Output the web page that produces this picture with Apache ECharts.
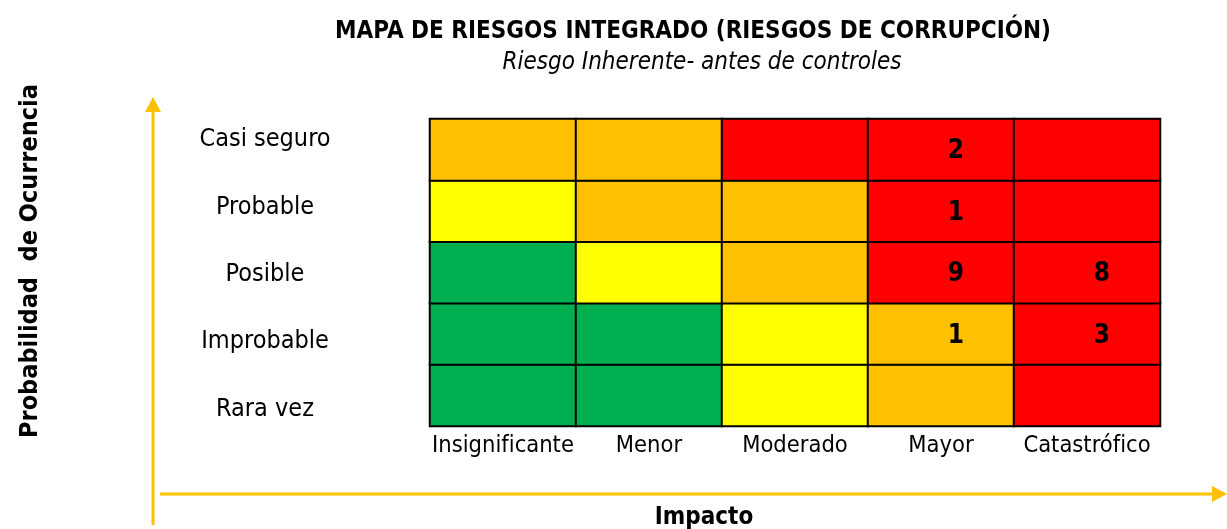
<!DOCTYPE html>
<html lang="es">
<head>
    <meta charset="UTF-8" />
    <title>Mapa de riesgos</title>
    <script src="https://cdn.jsdelivr.net/npm/echarts@6/dist/echarts.min.js"></script>
    <style>
        html, body { margin: 0; padding: 0; background: #fff; }
        #mapa { width: 1227px; height: 529px; }
    </style>
</head>
<body>
    <div id="mapa"></div>
<script type="text/javascript">
    // ejes
    var impactos = ['Insignificante', 'Menor', 'Moderado', 'Mayor', 'Catastrófico'];
    var probabilidades = ['Rara vez', 'Improbable', 'Posible', 'Probable', 'Casi seguro'];

    // nivel de riesgo por fila (de Rara vez a Casi seguro), columnas = impactos
    // B = bajo (verde), M = moderado (amarillo), A = alto (naranja), E = extremo (rojo)
    var nivelRaraVez    = ['B', 'B', 'M', 'A', 'E'];
    var nivelImprobable = ['B', 'B', 'M', 'A', 'E'];
    var nivelPosible    = ['B', 'M', 'A', 'E', 'E'];
    var nivelProbable   = ['M', 'A', 'A', 'E', 'E'];
    var nivelCasiSeguro = ['A', 'A', 'E', 'E', 'E'];

    // cantidad de riesgos en cada celda (0 = vacio)
    var riesgosRaraVez    = [0, 0, 0, 0, 0];
    var riesgosImprobable = [0, 0, 0, 1, 3];
    var riesgosPosible    = [0, 0, 0, 9, 8];
    var riesgosProbable   = [0, 0, 0, 1, 0];
    var riesgosCasiSeguro = [0, 0, 0, 2, 0];

    var colores = { B: '#00B050', M: '#FFFF00', A: '#FFC000', E: '#FF0000' };
    var fuente = "'Liberation Sans Narrow', 'Arial Narrow', 'DejaVu Sans Condensed', sans-serif";
    var naranja = '#FFC000';

    var niveles = [nivelRaraVez, nivelImprobable, nivelPosible, nivelProbable, nivelCasiSeguro];
    var riesgos = [riesgosRaraVez, riesgosImprobable, riesgosPosible, riesgosProbable, riesgosCasiSeguro];

    var datos = [];
    for (var y = 0; y < probabilidades.length; y++) {
        for (var x = 0; x < impactos.length; x++) {
            datos.push({
                value: [x, y, riesgos[y][x]],
                itemStyle: { color: colores[niveles[y][x]] }
            });
        }
    }

    var myChart = echarts.init(document.getElementById('mapa'));
    var option = {
        animation: false,
        textStyle: { fontFamily: fuente },
        title: [{
            text: 'MAPA DE RIESGOS INTEGRADO (RIESGOS DE CORRUPCIÓN)',
            left: 688, top: 15, textAlign: 'center',
            textStyle: { fontFamily: fuente, fontSize: 24, fontWeight: 'bold', color: '#000' }
        }, {
            text: 'Riesgo Inherente- antes de controles',
            left: 697, top: 46, textAlign: 'center',
            textStyle: { fontFamily: fuente, fontSize: 24, fontStyle: 'italic', fontWeight: 'normal', color: '#000' }
        }, {
            text: 'Impacto',
            left: 699, top: 501, textAlign: 'center',
            textStyle: { fontFamily: fuente, fontSize: 24, fontWeight: 'bold', color: '#000' }
        }],
        grid: [
            { left: 430, top: 119, width: 730, height: 307 },
            { left: 430, top: 106, width: 730, height: 337 }
        ],
        xAxis: [{
            gridIndex: 0, type: 'category', data: impactos,
            axisLine: { show: false }, axisTick: { show: false }, splitLine: { show: false },
            axisLabel: { color: '#000', fontSize: 23.5, fontFamily: fuente, margin: 8, interval: 0 }
        }, {
            gridIndex: 1, type: 'category', data: impactos, show: false
        }],
        yAxis: [{
            gridIndex: 0, type: 'category', data: probabilidades,
            axisLine: { show: false }, axisTick: { show: false }, splitLine: { show: false },
            axisLabel: { show: false }
        }, {
            gridIndex: 1, type: 'category', data: probabilidades,
            axisLine: { show: false }, axisTick: { show: false }, splitLine: { show: false },
            axisLabel: { color: '#000', fontSize: 25, fontFamily: fuente, margin: 165, align: 'center', interval: 0 }
        }],
        graphic: [
            // flecha vertical
            { type: 'line', shape: { x1: 153, y1: 110, x2: 153, y2: 525 }, style: { stroke: naranja, lineWidth: 3 } },
            { type: 'polygon', shape: { points: [[153, 97], [145, 112], [161, 112]] }, style: { fill: naranja } },
            // flecha horizontal
            { type: 'line', shape: { x1: 160, y1: 494, x2: 1214, y2: 494 }, style: { stroke: naranja, lineWidth: 3 } },
            { type: 'polygon', shape: { points: [[1227, 494], [1212, 486], [1212, 502]] }, style: { fill: naranja } },
            {
                type: 'text', x: 30, y: 261, rotation: Math.PI / 2,
                style: {
                    text: 'Probabilidad  de Ocurrencia', fill: '#000',
                    font: 'bold 25px ' + fuente, align: 'center', verticalAlign: 'middle'
                }
            }
        ],
        series: [{
            type: 'heatmap',
            xAxisIndex: 0, yAxisIndex: 0,
            data: datos,
            itemStyle: { borderColor: '#000', borderWidth: 2 },
            emphasis: { disabled: true },
            label: {
                show: true, offset: [15, 2], color: '#000',
                fontSize: 26, fontWeight: 'bold', fontFamily: fuente,
                formatter: function (p) { return p.value[2] ? String(p.value[2]) : ''; }
            }
        }]
    };
    myChart.setOption(option);
</script>
</body>
</html>
